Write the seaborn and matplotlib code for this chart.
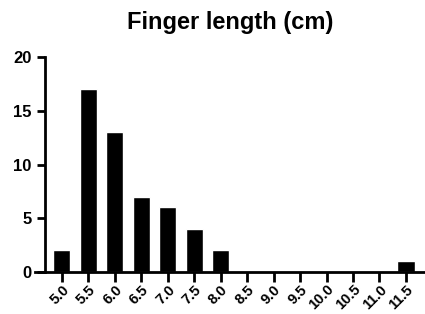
import matplotlib
matplotlib.use("Agg")
import matplotlib.pyplot as plt
import seaborn as sns
import pandas as pd

# finger length bins and counts
lengths = ["5.0", "5.5", "6.0", "6.5", "7.0", "7.5", "8.0", "8.5",
           "9.0", "9.5", "10.0", "10.5", "11.0", "11.5"]
counts = [2, 17, 13, 7, 6, 4, 2, 0, 0, 0, 0, 0, 0, 1]
y_ticks = [0, 5, 10, 15, 20]

sns.set_style("ticks")
plt.rcParams['font.family'] = ['Liberation Sans', 'DejaVu Sans']
plt.rcParams['font.weight'] = 'bold'
plt.rcParams['text.color'] = 'black'
plt.rcParams['xtick.color'] = 'black'
plt.rcParams['ytick.color'] = 'black'

df = pd.DataFrame({"length": lengths, "count": counts})

fig = plt.figure(figsize=(4.25, 3.14), dpi=100)
ax = fig.add_axes([0.082, 0.134, 0.918, 0.684])

sns.barplot(data=df, x="length", y="count", color="black", width=0.65,
            saturation=1, ax=ax)

ax.set_xlim(-1.02, 13.72)
ax.set_ylim(0, 20)
ax.set_yticks(y_ticks)
ax.set_xlabel("")
ax.set_ylabel("")
ax.set_title("Finger length (cm)", fontsize=17, fontweight='bold', pad=20)

for side in ["top", "right"]:
    ax.spines[side].set_visible(False)
ax.spines['left'].set_position(('data', -0.64))
ax.spines['left'].set_linewidth(2)
ax.spines['bottom'].set_linewidth(2)
ax.spines['left'].set_color('black')
ax.spines['bottom'].set_color('black')
ax.tick_params(axis='both', width=2, length=6, labelsize=12, color='black',
               labelcolor='black')
ax.tick_params(axis='x', length=7, pad=0.5)
plt.setp(ax.get_xticklabels(), rotation=45, ha='right', rotation_mode='anchor',
         fontweight='bold', fontsize=10.5)
plt.setp(ax.get_yticklabels(), fontweight='bold')

fig.savefig("out.png", dpi=100)
